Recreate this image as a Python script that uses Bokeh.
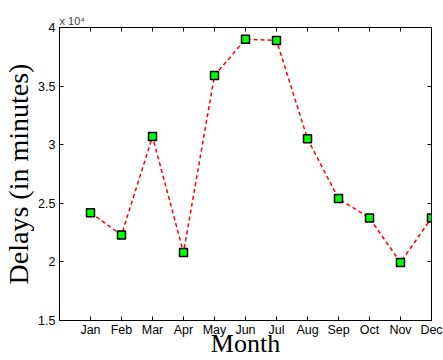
from bokeh.plotting import figure
from bokeh.models import FixedTicker, LinearAxis, Range1d
from bokeh.embed import file_html
from bokeh.resources import INLINE

months = ["Jan", "Feb", "Mar", "Apr", "May", "Jun", "Jul", "Aug", "Sep", "Oct", "Nov", "Dec"]
month_idx = list(range(1, 13))
delays = [24200, 22300, 30700, 20800, 35900, 39000, 38900, 30500, 25400, 23750, 19950, 23750]
y_ticks = [15000, 20000, 25000, 30000, 35000, 40000]
y_tick_labels = ["1.5", "2", "2.5", "3", "3.5", "4"]

p = figure(width=443, height=360, output_backend="svg", toolbar_location=None,
           x_range=Range1d(0, 12), y_range=Range1d(15000, 40000),
           min_border_left=57, min_border_right=12, min_border_top=27, min_border_bottom=39,
           title="x 10\u2074")
p.title.text_font = "Liberation Sans"
p.title.text_font_size = "11px"
p.title.text_font_style = "normal"
p.title.align = "left"
p.title.standoff = 2
p.xgrid.visible = False
p.ygrid.visible = False
p.outline_line_color = "black"
p.outline_line_width = 1
p.background_fill_color = "white"
p.border_fill_color = "white"

def style_axis(ax, labels=True, standoff=5):
    ax.axis_line_color = "black"
    ax.axis_line_width = 1
    ax.major_tick_in = 4
    ax.major_tick_out = 0
    ax.minor_tick_line_color = None
    ax.major_tick_line_color = "black"
    ax.major_label_text_font = "Liberation Sans"
    ax.major_label_text_color = "black"
    if labels:
        ax.major_label_text_font_size = "12.5px"
        ax.major_label_standoff = standoff
    else:
        ax.major_label_text_font_size = "0px"
        ax.major_label_standoff = 0

p.xaxis.ticker = FixedTicker(ticks=month_idx)
p.xaxis.major_label_overrides = {i: m for i, m in zip(month_idx, months)}
p.yaxis.ticker = FixedTicker(ticks=y_ticks)
p.yaxis.major_label_overrides = {t: l for t, l in zip(y_ticks, y_tick_labels)}
style_axis(p.xaxis[0], standoff=2)
style_axis(p.yaxis[0], standoff=4)

p.xaxis.axis_label = "Month"
p.yaxis.axis_label = "Delays (in minutes)"
for ax in (p.xaxis[0], p.yaxis[0]):
    ax.axis_label_text_font = "Liberation Serif"
    ax.axis_label_text_font_style = "normal"
    ax.axis_label_text_color = "black"
p.xaxis.axis_label_text_font_size = "26px"
p.yaxis.axis_label_text_font_size = "28px"
p.xaxis.axis_label_standoff = -11
p.yaxis.axis_label_standoff = 1

top = LinearAxis(ticker=FixedTicker(ticks=month_idx))
style_axis(top, labels=False)
right = LinearAxis(ticker=FixedTicker(ticks=y_ticks))
style_axis(right, labels=False)
p.add_layout(top, "above")
p.add_layout(right, "right")

p.line(month_idx, delays, line_color="#ff0000", line_width=1.5, line_dash="4 3")
p.scatter(month_idx, delays, marker="square", size=8, fill_color="#00ff00",
          line_color="black", line_width=1.5)

open("out.html", "w").write(file_html(p, INLINE))
